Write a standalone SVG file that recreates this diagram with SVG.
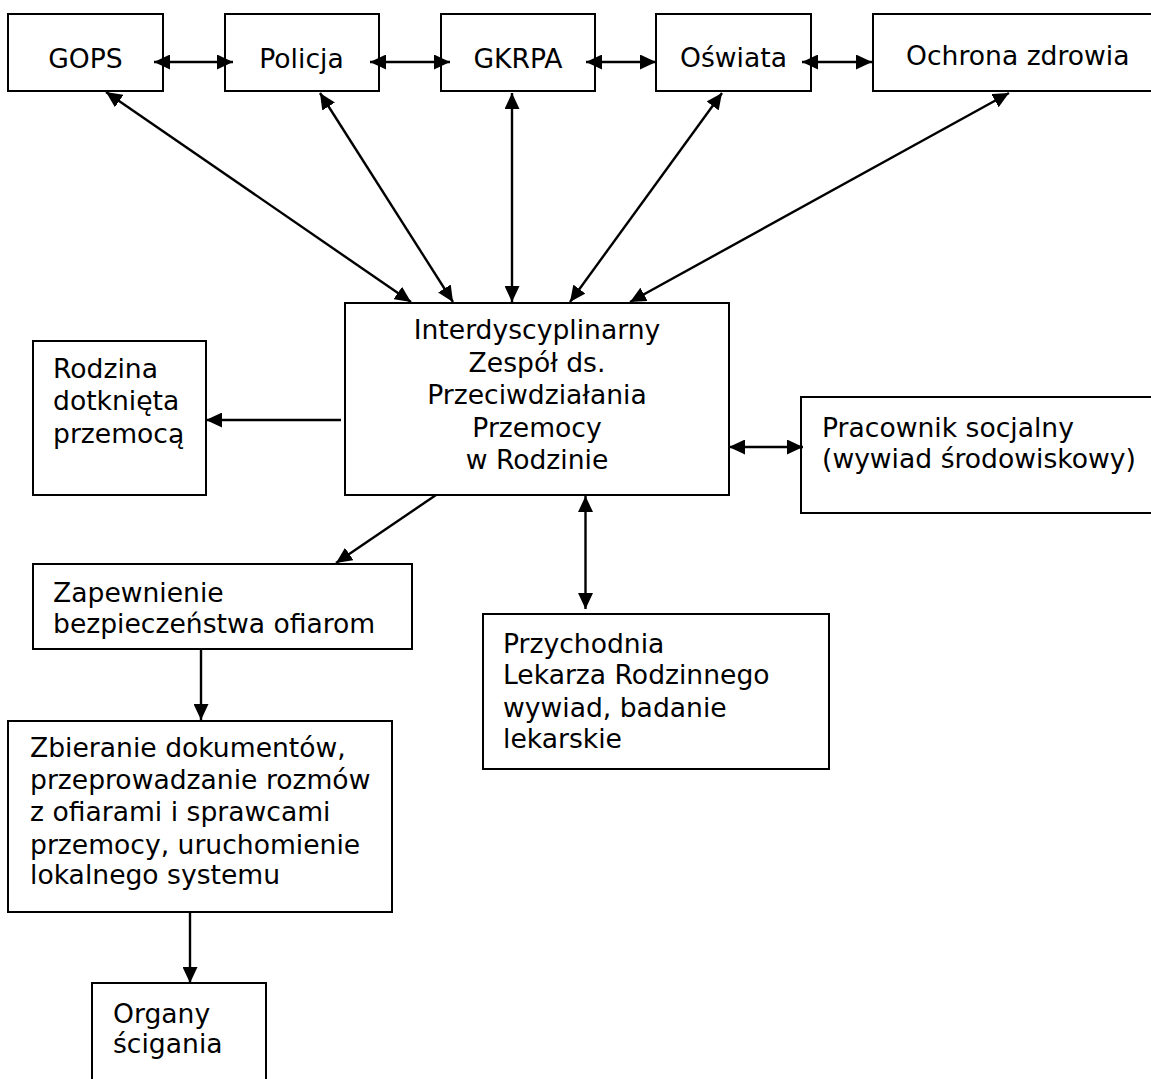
<svg xmlns="http://www.w3.org/2000/svg" width="1151" height="1079" viewBox="0 0 1151 1079">
<style>
.box{fill:#fff;stroke:#000;stroke-width:2}
.t{font-family:"DejaVu Sans","Verdana","Liberation Sans",sans-serif;font-size:26.6px;fill:#000}
.c{text-anchor:middle}
.ln{stroke:#000;stroke-width:2.4;fill:none}
.a1{marker-end:url(#ah)}
.a2{marker-start:url(#ah);marker-end:url(#ah)}
</style>
<defs>
<marker id="ah" viewBox="0 0 16 15" refX="16" refY="7.5" markerWidth="16" markerHeight="15" markerUnits="userSpaceOnUse" orient="auto-start-reverse">
<path d="M0,0 L16,7.5 L0,15 z" fill="#000"/>
</marker>
</defs>
<rect width="1151" height="1079" fill="#fff"/>
<g id="gops"><rect class="box" x="8" y="14" width="155" height="77"/><text class="t c" x="85.5" y="68">GOPS</text></g>
<g id="policja"><rect class="box" x="225" y="14" width="154" height="77"/><text class="t c" x="301.5" y="68">Policja</text></g>
<g id="gkrpa"><rect class="box" x="441" y="14" width="154" height="77"/><text class="t c" x="518" y="68">GKRPA</text></g>
<g id="oswiata"><rect class="box" x="656" y="14" width="155" height="77"/><text class="t c" x="733.5" y="67">Oświata</text></g>
<g id="ochrona"><rect class="box" x="873" y="14" width="300" height="77"/><text class="t" x="906" y="65">Ochrona zdrowia</text></g>
<g id="zespol"><rect class="box" x="345" y="303" width="384" height="192"/>
<text class="t c" x="537" y="339">Interdyscyplinarny</text>
<text class="t c" x="537" y="372">Zespół ds.</text>
<text class="t c" x="537" y="404">Przeciwdziałania</text>
<text class="t c" x="537" y="437">Przemocy</text>
<text class="t c" x="537" y="469">w Rodzinie</text></g>
<g id="rodzina"><rect class="box" x="33" y="341" width="173" height="154"/>
<text class="t" x="53" y="378">Rodzina</text>
<text class="t" x="53" y="410">dotknięta</text>
<text class="t" x="53" y="443">przemocą</text></g>
<g id="pracownik"><rect class="box" x="801" y="397" width="380" height="116"/>
<text class="t" x="822" y="437">Pracownik socjalny</text>
<text class="t" x="822" y="468">(wywiad środowiskowy)</text></g>
<g id="zapewnienie"><rect class="box" x="33" y="564" width="379" height="85"/>
<text class="t" x="53" y="602">Zapewnienie</text>
<text class="t" x="53" y="633">bezpieczeństwa ofiarom</text></g>
<g id="przychodnia"><rect class="box" x="483" y="614" width="346" height="155"/>
<text class="t" x="503" y="653">Przychodnia</text>
<text class="t" x="503" y="684">Lekarza Rodzinnego</text>
<text class="t" x="503" y="717">wywiad, badanie</text>
<text class="t" x="503" y="748">lekarskie</text></g>
<g id="zbieranie"><rect class="box" x="8" y="721" width="384" height="191"/>
<text class="t" x="30" y="757">Zbieranie dokumentów,</text>
<text class="t" x="30" y="789">przeprowadzanie rozmów</text>
<text class="t" x="30" y="821">z ofiarami i sprawcami</text>
<text class="t" x="30" y="854">przemocy, uruchomienie</text>
<text class="t" x="30" y="884">lokalnego systemu</text></g>
<g id="organy"><rect class="box" x="92" y="983" width="174" height="110"/>
<text class="t" x="113" y="1023">Organy</text>
<text class="t" x="113" y="1053">ścigania</text></g>
<g id="connectors">
<line class="ln a2" x1="154" y1="62" x2="233" y2="62"/>
<line class="ln a2" x1="370" y1="62" x2="450" y2="62"/>
<line class="ln a2" x1="586" y1="62" x2="656" y2="62"/>
<line class="ln a2" x1="802" y1="62" x2="872" y2="62"/>
<line class="ln a2" x1="106" y1="92" x2="411" y2="302"/>
<line class="ln a2" x1="320" y1="93" x2="453" y2="302"/>
<line class="ln a2" x1="512" y1="93" x2="512" y2="302"/>
<line class="ln a2" x1="722" y1="93" x2="570" y2="302"/>
<line class="ln a2" x1="1009" y1="93" x2="630" y2="302"/>
<line class="ln a1" x1="341" y1="420" x2="206" y2="420"/>
<line class="ln a2" x1="729" y1="447" x2="803" y2="447"/>
<line class="ln a1" x1="436" y1="495" x2="336" y2="563"/>
<line class="ln a2" x1="585.5" y1="496" x2="585.5" y2="609"/>
<line class="ln a1" x1="201" y1="649" x2="201" y2="720"/>
<line class="ln a1" x1="190" y1="912" x2="190" y2="983"/>
</g>
</svg>
